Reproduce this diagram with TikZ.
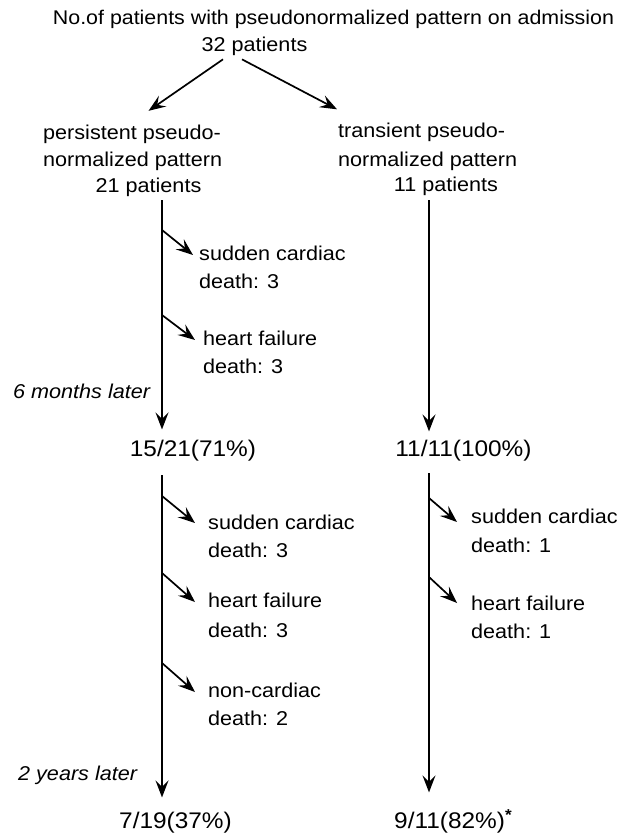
\documentclass[tikz,border=0pt]{standalone}
\usepackage{fontspec}
\setmainfont[FakeStretch=1.08]{Liberation Sans}
\usetikzlibrary{arrows.meta}

\begin{document}
\begin{tikzpicture}[x=1pt, y=-1pt,
        arr/.style={line width=1.7pt, -{Stealth[length=17pt, width=13pt, inset=6.5pt]}},
        txt/.style={inner sep=0pt, font=\fontsize{20}{26}\selectfont},
        num/.style={inner sep=0pt, font=\fontsize{22.6}{28}\selectfont},
        note/.style={inner sep=0pt, font=\fontsize{20}{26}\selectfont\itshape}]
        \useasboundingbox (0,0) rectangle (637,837);
        % admission
        \node[txt, font=\fontsize{19.8}{26}\selectfont, anchor=base] (adm) at (333.5, 25) {No.of patients with pseudonormalized pattern on admission};
        \node[txt, anchor=base] (p32) at (254.5, 52) {32 patients};
        % the two groups
        \node[txt, anchor=base west] (pers1) at (43, 140) {persistent pseudo-};
        \node[txt, anchor=base west] (pers2) at (43, 167) {normalized pattern};
        \node[txt, anchor=base] (p21) at (148.5, 193) {21 patients};
        \node[txt, anchor=base west] (tran1) at (338, 138) {transient pseudo-};
        \node[txt, anchor=base west] (tran2) at (338, 167) {normalized pattern};
        \node[txt, anchor=base] (p11) at (446, 192) {11 patients};
        \draw[arr] ([xshift=-31.5pt, yshift=-3pt]p32.south) -- ([xshift=16.5pt, yshift=14.5pt]pers1.north);
        \draw[arr] ([xshift=-12.5pt, yshift=-3pt]p32.south) -- ([xshift=-1pt, yshift=14pt]tran1.north west);

        % first six months
        \node[txt, anchor=base west] (scA) at (199, 260) {sudden cardiac};
        \node[txt, anchor=base west] (scAd) at (199, 288) {death: 3};
        \node[txt, anchor=base west] (hfA) at (203, 345) {heart failure};
        \node[txt, anchor=base west] (hfAd) at (203, 373) {death: 3};
        \node[note, anchor=base west] (mon6) at (13, 398) {6 months later};
        \node[num, anchor=base] (m15) at (193, 456) {15/21(71\%)};
        \node[num, anchor=base] (m11) at (463.5, 456) {11/11(100\%)};
        \coordinate (la) at (162, 200);
        \coordinate (ra) at (429, 200);
        \coordinate (laA) at (162, 230);
        \coordinate (laB) at (162, 315);
        \draw[arr] (la) -- ([yshift=10pt]la |- m15.north);
        \draw[arr] (ra) -- ([yshift=8pt]ra |- m11.north);
        \draw[arr] (laA) -- ([xshift=-6pt, yshift=5pt]scA.base west);
        \draw[arr] (laB) -- ([xshift=-8pt, yshift=5pt]hfA.base west);

        % up to two years
        \node[txt, anchor=base west] (scB) at (208, 529) {sudden cardiac};
        \node[txt, anchor=base west] (scBd) at (208, 557) {death: 3};
        \node[txt, anchor=base west] (hfB) at (208, 607) {heart failure};
        \node[txt, anchor=base west] (hfBd) at (208, 637) {death: 3};
        \node[txt, anchor=base west] (ncB) at (208, 697) {non-cardiac};
        \node[txt, anchor=base west] (ncBd) at (208, 725) {death: 2};
        \node[txt, anchor=base west] (scC) at (471, 523) {sudden cardiac};
        \node[txt, anchor=base west] (scCd) at (471, 552) {death: 1};
        \node[txt, anchor=base west] (hfC) at (471, 610) {heart failure};
        \node[txt, anchor=base west] (hfCd) at (471, 638) {death: 1};
        \node[note, anchor=base west] (yr2) at (18, 780) {2 years later};
        \node[num, anchor=base] (m7) at (175.5, 828) {7/19(37\%)};
        \node[num, anchor=base west] (m9) at (394, 828) {9/11(82\%)\textsuperscript{\textbf{*}}};
        \coordinate (lb) at (162, 475);
        \coordinate (rb) at (429, 473);
        \coordinate (lbA) at (162, 496);
        \coordinate (lbB) at (162, 573);
        \coordinate (lbC) at (162, 663);
        \coordinate (rbA) at (429, 498);
        \coordinate (rbB) at (429, 577);
        \draw[arr] (lb) -- ([yshift=14pt]lb |- m7.north);
        \draw[arr] (rb) -- ([yshift=17pt]rb |- m9.north);
        \draw[arr] (lbA) -- ([xshift=-13pt, yshift=6pt]scB.base west);
        \draw[arr] (lbB) -- ([xshift=-13pt, yshift=5pt]hfB.base west);
        \draw[arr] (lbC) -- ([xshift=-13pt, yshift=5pt]ncB.base west);
        \draw[arr] (rbA) -- ([xshift=-14pt, yshift=1pt]scC.base west);
        \draw[arr] (rbB) -- ([xshift=-14pt, yshift=7pt]hfC.base west);
\end{tikzpicture}
\end{document}
